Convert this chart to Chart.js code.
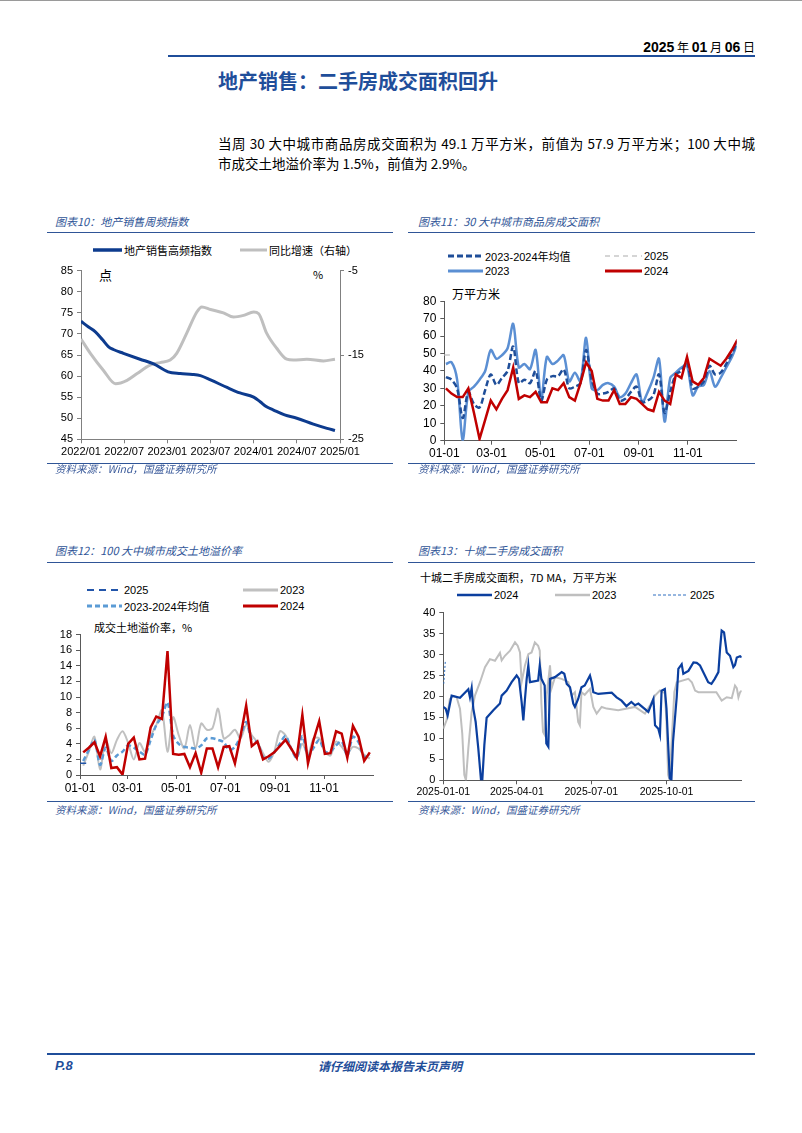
<!DOCTYPE html>
<html lang="zh-CN">
<head>
<meta charset="utf-8">
<script src="https://cdn.jsdelivr.net/npm/chart.js@4.4.1/dist/chart.umd.min.js"></script>
<style>
  body { margin: 0; width: 802px; height: 1133px; position: relative; background: #fff; overflow: hidden;
         font-family: 'Noto Sans CJK SC', sans-serif; }
  .t { position: absolute; white-space: nowrap; }
  .rule { position: absolute; height: 0; border-top: 1.5px solid #2F5597; }
  .ctitle { position: absolute; font-size: 11px; line-height: 14px; font-style: italic; color: #2F5597; white-space: nowrap; }
  .src { position: absolute; font-size: 10.5px; line-height: 14px; font-style: italic; color: #3A5A9A; white-space: nowrap; }
  .leg { position: absolute; height: 14px; display: flex; align-items: center; white-space: nowrap;
         font-family: 'Liberation Sans', 'Noto Sans CJK SC', sans-serif; font-size: 11px; color: #000; }
  .leg span { margin-left: 2px; }
  .ax { position: absolute; white-space: nowrap; font-size: 11px; line-height: 14px; color: #000; }
  canvas { position: absolute; }
</style>
</head>
<body>
<div style="position:absolute;left:0;top:0;width:802px;border-top:1px solid #9a9a9a;"></div>

<!-- header -->
<div class="t" style="right:47px;top:38px;line-height:18px;color:#000;font-size:12px;">
  <b style="font-family:'Liberation Sans';font-size:14px;">2025</b>&nbsp;年&nbsp;<b style="font-family:'Liberation Sans';font-size:14px;">01</b>&nbsp;月&nbsp;<b style="font-family:'Liberation Sans';font-size:14px;">06</b>&nbsp;日
</div>
<div style="position:absolute;left:168px;top:55px;width:587px;border-top:2px solid #1F4E9A;"></div>
<div class="t" style="left:218px;top:67px;font-size:20px;line-height:28px;font-weight:700;color:#1F4E9A;">地产销售：二手房成交面积回升</div>
<div class="t" style="left:218px;top:133px;width:537px;font-size:13.5px;line-height:20px;text-align:justify;text-align-last:justify;color:#000;">当周 30 大中城市商品房成交面积为 49.1 万平方米，前值为 57.9 万平方米；100 大中城</div>
<div class="t" style="left:218px;top:153px;font-size:13.5px;line-height:20px;color:#000;">市成交土地溢价率为 1.5%，前值为 2.9%。</div>

<!-- chart 10 -->
<div class="ctitle" style="left:55px;top:214px;">图表10：地产销售周频指数</div>
<div class="rule" style="left:47px;top:232px;width:346px;"></div>
<div class="leg" style="left:93px;top:243px;"><svg width="29" height="14"><line x1="0" y1="7" x2="29" y2="7" stroke="#0D3B8E" stroke-width="3.5"/></svg><span>地产销售高频指数</span></div>
<div class="leg" style="left:240px;top:243px;"><svg width="27" height="14"><line x1="0" y1="7" x2="27" y2="7" stroke="#BFBFBF" stroke-width="3"/></svg><span>同比增速（右轴）</span></div>
<div class="ax" style="left:99px;top:267px;font-size:13px;line-height:16px;">点</div>
<div class="ax" style="left:313px;top:267px;">%</div>
<canvas id="c10" width="346" height="202" style="left:47px;top:260px;"></canvas>
<div class="rule" style="left:47px;top:463px;width:346px;"></div>
<div class="src" style="left:55px;top:462px;">资料来源：Wind，国盛证券研究所</div>

<!-- chart 11 -->
<div class="ctitle" style="left:418px;top:214px;">图表11：30 大中城市商品房成交面积</div>
<div class="rule" style="left:408px;top:232px;width:347px;"></div>
<div class="leg" style="left:448px;top:249px;"><svg width="35" height="14"><line x1="0" y1="7" x2="35" y2="7" stroke="#1F4E99" stroke-width="3" stroke-dasharray="6 3"/></svg><span>2023-2024年均值</span></div>
<div class="leg" style="left:605px;top:249px;"><svg width="37" height="14"><line x1="0" y1="7" x2="37" y2="7" stroke="#C8C8C8" stroke-width="1.5" stroke-dasharray="5 4"/></svg><span>2025</span></div>
<div class="leg" style="left:448px;top:264px;"><svg width="35" height="14"><line x1="0" y1="7" x2="35" y2="7" stroke="#5B8FD3" stroke-width="3"/></svg><span>2023</span></div>
<div class="leg" style="left:605px;top:264px;"><svg width="37" height="14"><line x1="0" y1="7" x2="37" y2="7" stroke="#C00000" stroke-width="3"/></svg><span>2024</span></div>
<div class="ax" style="left:452px;top:286px;font-size:12px;line-height:16px;">万平方米</div>
<canvas id="c11" width="350" height="172" style="left:400px;top:290px;"></canvas>
<div class="rule" style="left:408px;top:463px;width:347px;"></div>
<div class="src" style="left:418px;top:462px;">资料来源：Wind，国盛证券研究所</div>

<!-- chart 12 -->
<div class="ctitle" style="left:55px;top:543px;">图表12：100 大中城市成交土地溢价率</div>
<div class="rule" style="left:47px;top:562px;width:346px;"></div>
<div class="leg" style="left:87px;top:583px;"><svg width="35" height="14"><line x1="0" y1="7" x2="35" y2="7" stroke="#2255AA" stroke-width="2" stroke-dasharray="7 5"/></svg><span>2025</span></div>
<div class="leg" style="left:243px;top:583px;"><svg width="35" height="14"><line x1="0" y1="7" x2="35" y2="7" stroke="#C0C0C0" stroke-width="3"/></svg><span>2023</span></div>
<div class="leg" style="left:87px;top:599px;"><svg width="35" height="14"><line x1="0" y1="7" x2="35" y2="7" stroke="#5B9BD5" stroke-width="3" stroke-dasharray="5 3"/></svg><span>2023-2024年均值</span></div>
<div class="leg" style="left:243px;top:599px;"><svg width="35" height="14"><line x1="0" y1="7" x2="35" y2="7" stroke="#C00000" stroke-width="3"/></svg><span>2024</span></div>
<div class="ax" style="left:94px;top:620px;">成交土地溢价率，%</div>
<canvas id="c12" width="343" height="173" style="left:47px;top:624px;"></canvas>
<div class="rule" style="left:47px;top:801px;width:346px;"></div>
<div class="src" style="left:55px;top:803px;">资料来源：Wind，国盛证券研究所</div>

<!-- chart 13 -->
<div class="ctitle" style="left:418px;top:543px;">图表13：十城二手房成交面积</div>
<div class="rule" style="left:408px;top:562px;width:347px;"></div>
<div class="ax" style="left:420px;top:570px;">十城二手房成交面积，7D MA，万平方米</div>
<div class="leg" style="left:457px;top:588px;"><svg width="35" height="14"><line x1="0" y1="7" x2="35" y2="7" stroke="#0B3F9F" stroke-width="2.5"/></svg><span>2024</span></div>
<div class="leg" style="left:555px;top:588px;"><svg width="35" height="14"><line x1="0" y1="7" x2="35" y2="7" stroke="#BFBFBF" stroke-width="2.5"/></svg><span>2023</span></div>
<div class="leg" style="left:653px;top:588px;"><svg width="35" height="14"><line x1="0" y1="7" x2="35" y2="7" stroke="#2E6FC0" stroke-width="1" stroke-dasharray="3 2"/></svg><span>2025</span></div>
<canvas id="c13" width="350" height="198" style="left:405px;top:602px;"></canvas>
<div class="rule" style="left:408px;top:801px;width:347px;"></div>
<div class="src" style="left:418px;top:803px;">资料来源：Wind，国盛证券研究所</div>

<!-- footer -->
<div style="position:absolute;left:47px;top:1053px;width:708px;border-top:2px solid #1F4E9A;"></div>
<div class="t" style="left:55px;top:1058px;font-family:'Liberation Sans';font-weight:700;font-style:italic;font-size:13px;line-height:16px;color:#1F4E9A;">P.8</div>
<div class="t" style="left:318px;top:1058px;font-weight:700;font-style:italic;font-size:12px;line-height:16px;color:#1F4E9A;">请仔细阅读本报告末页声明</div>

<script>
// ---- chart 10: 地产销售周频指数 (x = months since 2022/01)
const c10TickLabels = ['2022/01', '2022/07', '2023/01', '2023/07', '2024/01', '2024/07', '2025/01'];
const c10TickMonths = [0, 6, 12, 18, 24, 30, 36];
const c10IndexMonths = [0, 1, 2, 3, 3.8, 4.5, 5.9, 8.2, 10.1, 12.1, 13.8, 15.5, 16.6, 18, 20.3, 22.1, 24, 24.9, 25.8, 26.7, 28.3, 30, 32.3, 34.2, 35.3];
const c10Index = [73, 71.7, 70.5, 68.6, 67, 66.3, 65.4, 64, 62.9, 61, 60.6, 60.4, 60.1, 59.1, 57.3, 56, 55, 53.9, 52.7, 52, 50.8, 50, 48.6, 47.6, 47.1];
const c10GrowthMonths = [0, 1.3, 3.1, 4.8, 6.4, 7.8, 9.6, 11, 12.4, 13.3, 14.7, 16.1, 16.8, 18, 19.8, 21.2, 22.6, 24, 24.7, 25.8, 27.2, 28.6, 29.5, 31.4, 33.7, 35.3];
const c10Growth = [-13.1, -14.8, -16.8, -18.4, -18, -17.2, -16.2, -15.9, -15.6, -14.8, -12.4, -9.9, -9.3, -9.6, -10, -10.5, -10.3, -9.9, -10.1, -12.4, -14.2, -15.5, -15.6, -15.5, -15.7, -15.5];

// ---- chart 11: 30 大中城市商品房成交面积 (weekly, x = day of year)
const monthTickLabels = ['01-01', '03-01', '05-01', '07-01', '09-01', '11-01'];
const monthTickDays = [0, 59, 120, 181, 243, 304];
const c11Avg = [36.5, 35, 30, 13, 28, 21, 19, 29, 38, 32, 36, 40, 54, 33, 35, 33, 40, 23, 35, 37, 37, 41, 30, 31, 33, 52, 35, 27, 27, 28, 30, 23, 24, 28, 31, 22, 23, 26, 38, 16, 28, 38, 40, 45, 30, 31, 34, 43, 38, 39, 44, 50, 57];
const c11Y2023 = [44, 45, 35, 0, 28, 31, 35, 40, 52, 47, 49, 53, 67, 42, 44, 41, 52, 24, 48, 44, 46, 49, 34, 39, 34, 59, 30, 29, 32, 33, 31, 25, 27, 33, 38, 22, 28, 36, 47, 11, 36, 39, 42, 43, 26, 31, 32, 40, 31, 36, 42, 48, 56];
const c11Y2024 = [30, 27, 25, 25, 30, 16, 1, 12, 23, 18, 24, 29, 42, 24, 26, 25, 28, 22, 22, 30, 29, 33, 25, 23, 33, 45, 40, 24, 23, 23, 29, 21, 21, 25, 24, 21, 18, 17, 28, 23, 21, 38, 36, 48, 34, 32, 36, 47, 45, 43, 47, 52, 58];
const c11Y2025 = [49.1];

// ---- chart 12: 100 大中城市成交土地溢价率 (weekly)
const c12Y2024 = [2.9, 3.5, 4.2, 2.4, 4.9, 0.9, 1.0, 0.05, 4.0, 4.8, 2.0, 2.1, 6.1, 7.5, 7.2, 15.9, 2.7, 2.6, 2.7, 1.0, 2.8, 0.3, 3.4, 3.4, 1.0, 3.6, 3.7, 1.5, 5.0, 8.9, 3.7, 4.3, 2.0, 2.4, 2.9, 3.7, 4.5, 3.4, 2.2, 7.7, 1.5, 4.5, 6.9, 2.7, 2.8, 5.6, 5.3, 2.2, 6.3, 4.9, 1.8, 2.9];
const c12Y2023 = [1.2, 3.0, 4.9, 0.7, 4.5, 2.8, 4.5, 5.6, 4.1, 2.0, 4.1, 3.0, 5.0, 6.4, 8.3, 3.0, 7.4, 5.1, 3.4, 6.4, 3.4, 6.6, 5.8, 6.0, 8.5, 4.7, 5.1, 5.8, 4.7, 6.4, 5.1, 4.2, 2.8, 1.7, 3.0, 5.6, 5.1, 3.4, 2.2, 4.0, 2.6, 4.7, 4.7, 3.0, 2.5, 4.3, 3.6, 2.8, 3.6, 3.4, 2.6, 2.1];
const c12Avg = [1.8, 3.2, 4.5, 1.3, 3.5, 1.8, 2.5, 3.0, 3.8, 3.5, 3.0, 2.6, 4.5, 6.4, 7.5, 9.3, 5.1, 4.0, 3.6, 3.5, 3.4, 3.8, 4.7, 4.7, 4.5, 4.2, 3.2, 3.6, 5.0, 6.8, 4.5, 4.2, 2.3, 2.1, 2.9, 4.0, 5.0, 3.4, 2.2, 5.0, 2.5, 3.5, 4.5, 3.0, 3.0, 3.8, 4.3, 2.5, 4.9, 4.2, 2.3, 2.6];
const c12Y2025 = [1.5];

// ---- chart 13: 十城二手房成交面积 7D MA (x = day of year)
const c13TickLabels = ['2025-01-01', '2025-04-01', '2025-07-01', '2025-10-01'];
const c13TickDays = [0, 90, 181, 273];
const c13Days2024 = [0, 2.9, 5.3, 10.2, 20.4, 30.6, 32.6, 34.7, 36.7, 39.6, 42.8, 46.1, 47.7, 50.2, 53, 61.2, 69.3, 71.4, 77.5, 83.6, 89.7, 92.6, 95.8, 97.9, 99.9, 102, 104, 106, 116, 118, 120, 124, 126, 128.5, 130.5, 136.6, 144.8, 148, 151, 155, 159, 161, 165, 169, 173, 179.4, 181.5, 183.5, 189.6, 206, 212, 218, 224, 230, 234.5, 238.6, 250.8, 257, 259, 263, 265, 267, 271, 273, 277, 279, 281, 285.5, 287.5, 291.6, 293.6, 299.8, 306, 310, 314, 320, 324, 328, 332, 336.5, 338.5, 340.5, 343.4, 346.7, 350.7, 354.8, 356.8, 359, 363, 365];
const c13Y2024 = [17.5, 17.1, 15.5, 20.2, 19.7, 21.7, 19.8, 22, 17.1, 13.9, 7.6, 0.1, 0, 8.4, 14.9, 16.7, 18.3, 20.2, 21.4, 23.4, 25, 24.2, 18.7, 14.3, 19.4, 24.2, 27.4, 23.4, 23.8, 27.4, 24.2, 22.6, 8.8, 8, 24.2, 24.6, 25.8, 25.4, 23, 22.2, 18.3, 17.5, 19.4, 22.2, 22.6, 25, 23.4, 21, 20.6, 20.9, 19.8, 19, 17.7, 18.7, 17.9, 18.3, 16.3, 19.4, 13.1, 12.3, 10.8, 21.4, 21.8, 17.1, 0.5, 0, 9.2, 19.8, 26.6, 27.7, 25.4, 26.1, 28.1, 28, 27.4, 25, 23.4, 23, 24.2, 25.8, 31.3, 35.7, 35.3, 30.5, 29.7, 27, 27.5, 29.3, 29.6, 29.3];
const c13Days2023 = [0, 4, 8, 12, 16.3, 20.4, 23.2, 25.7, 27.7, 30.6, 34.7, 38.7, 44.9, 51, 57, 63.2, 69.3, 71.4, 75.4, 81.6, 87.7, 91, 93.8, 95.8, 99.9, 104, 108, 112, 116, 118, 120, 122, 124, 126.4, 130.5, 132.5, 136.6, 144.8, 153, 157, 161, 165, 167, 169, 173, 179.4, 183.5, 187.6, 193.7, 199.8, 214, 234.5, 246.7, 252.9, 259, 265, 271, 273, 275, 277, 279, 282.6, 285.5, 299.8, 304, 308, 312, 334, 340.5, 346.7, 352.8, 356.8, 359, 361, 363, 365];
const c13Y2023 = [12.3, 14.3, 19.4, 20.1, 19.8, 17.1, 11.1, 1.3, 0, 7.6, 16.3, 20.2, 23.4, 27, 28.9, 28.5, 30.4, 28.6, 29.7, 30.9, 32.9, 32.1, 30.5, 23.4, 27.4, 30.1, 30.5, 32.9, 32.1, 30.9, 18.3, 11.5, 10.8, 20.2, 27.4, 22, 24.6, 24.2, 23.4, 20.2, 21, 13.9, 13.1, 21, 20.4, 21.8, 17.5, 15.9, 17.5, 17.1, 16.7, 17.5, 15.9, 17.9, 20.2, 21.4, 20.8, 13.9, 1.3, 0, 8, 21, 23.4, 24.2, 23.4, 21.4, 21, 21, 19, 19.8, 19.6, 22.6, 22, 19.8, 21, 21.4];
const c13Days2025 = [0.5, 1.5, 2.5];
const c13Y2025 = [23, 25.5, 28.5];

Chart.defaults.font.family = "'Liberation Sans', 'Noto Sans CJK SC', sans-serif";
Chart.defaults.color = '#000';

const pts = (xs, ys) => ys.map((y, i) => ({ x: xs[i], y: y }));
const weekly = (ys, firstDay) => ys.map((y, i) => ({ x: firstDay + 7 * i, y: y }));

function xAxis(max, tickVals, tickLabels, height, size, axisColor) {
  return {
    type: 'linear', min: 0, max: max,
    grid: { drawOnChartArea: false, drawTicks: true, tickLength: 4, color: axisColor },
    border: { color: axisColor },
    ticks: {
      autoSkip: false, maxRotation: 0, padding: 2, font: { size: size },
      callback: (v) => { const i = tickVals.indexOf(v); return i < 0 ? '' : tickLabels[i]; }
    },
    afterBuildTicks: (s) => { s.ticks = tickVals.map(v => ({ value: v })); },
    afterFit: (s) => { s.height = height; }
  };
}

function yAxis(pos, min, max, step, width, size, axisColor) {
  return {
    type: 'linear', position: pos, min: min, max: max,
    grid: { drawOnChartArea: false, drawTicks: true, tickLength: 4, color: axisColor },
    border: { color: axisColor },
    ticks: { stepSize: step, autoSkip: false, padding: 4, font: { size: size } },
    afterFit: (s) => { s.width = width; }
  };
}

function line(data, color, width, extra) {
  return Object.assign({ data: data, borderColor: color, backgroundColor: color, borderWidth: width,
    pointRadius: 0, fill: false, tension: 0 }, extra || {});
}

function makeChart(id, datasets, scales, padding) {
  return new Chart(document.getElementById(id), {
    type: 'line',
    data: { datasets: datasets },
    options: {
      responsive: false, animation: false,
      layout: { padding: padding },
      plugins: { legend: { display: false }, tooltip: { enabled: false } },
      scales: scales
    }
  });
}

makeChart('c10', [
  line(pts(c10IndexMonths, c10Index), '#0D3B8E', 3, { cubicInterpolationMode: 'monotone', yAxisID: 'y' }),
  line(pts(c10GrowthMonths, c10Growth), '#BFBFBF', 3, { cubicInterpolationMode: 'monotone', yAxisID: 'y1' })
], {
  x: xAxis(36, c10TickMonths, c10TickLabels, 22.7, 11, '#808080'),
  y: yAxis('left', 45, 85, 5, 34, 11, '#808080'),
  y1: yAxis('right', -25, -5, 10, 53, 11, '#808080')
}, { top: 10.7, right: 0, left: 0, bottom: 0 });

makeChart('c11', [
  line(weekly(c11Y2024, 2), '#C00000', 2.5),
  line(weekly(c11Avg, 2), '#1F4E99', 2.5, { borderDash: [6, 3], tension: 0.3 }),
  line(weekly(c11Y2023, 2), '#5B8FD3', 2.5, { tension: 0.3 }),
  line(weekly(c11Y2025, 2), '#C8C8C8', 1.5, { pointStyle: 'line', pointRadius: 4, pointBorderWidth: 1.5 })
], {
  x: xAxis(365, monthTickDays, monthTickLabels, 21.3, 12, '#595959'),
  y: yAxis('left', 0, 80, 10, 44.3, 12, '#595959')
}, { top: 9.3, right: 13.3, left: 0, bottom: 0 });

makeChart('c12', [
  line(weekly(c12Y2025, 4), '#2255AA', 1.5, { pointStyle: 'line', pointRadius: 3, pointBorderWidth: 1.5 }),
  line(weekly(c12Y2024, 4), '#C00000', 2.5),
  line(weekly(c12Avg, 4), '#5B9BD5', 2.5, { borderDash: [5, 3], tension: 0.3 }),
  line(weekly(c12Y2023, 4), '#C0C0C0', 2, { tension: 0.3 })
], {
  x: xAxis(365, monthTickDays, monthTickLabels, 22, 12, '#595959'),
  y: yAxis('left', 0, 18, 2, 33, 11, '#595959')
}, { top: 9.7, right: 17, left: 0, bottom: 0 });

makeChart('c13', [
  line(pts(c13Days2025, c13Y2025), '#2E6FC0', 1, { borderDash: [2, 2] }),
  line(pts(c13Days2024, c13Y2024), '#0B3F9F', 2.2),
  line(pts(c13Days2023, c13Y2023), '#BFBFBF', 2)
], {
  x: xAxis(365, c13TickDays, c13TickLabels, 19.7, 10.5, '#595959'),
  y: yAxis('left', 0, 40, 5, 38.3, 11, '#595959')
}, { top: 9.7, right: 13.3, left: 0, bottom: 0 });
</script>
</body>
</html>
